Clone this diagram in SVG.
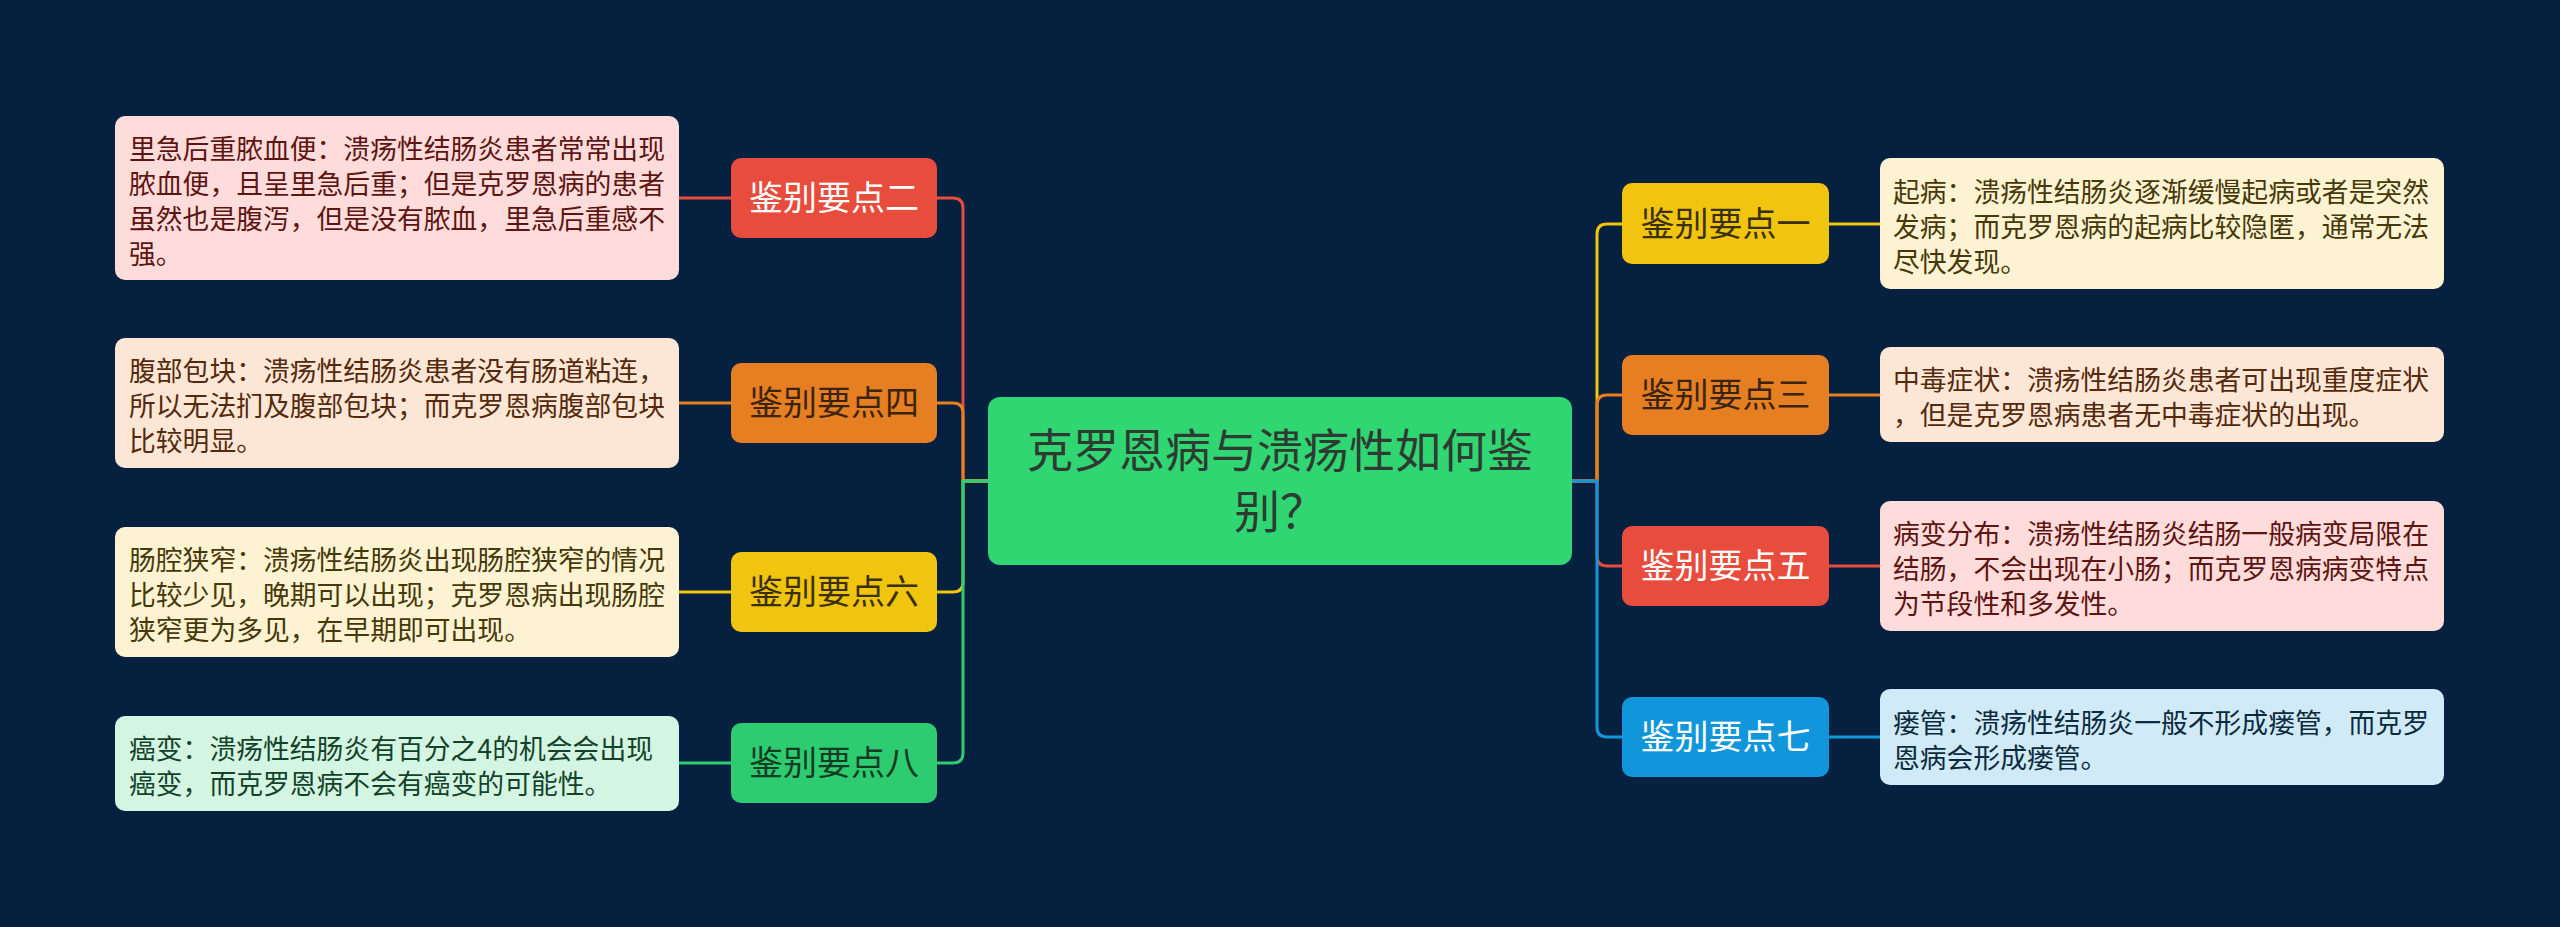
<svg xmlns="http://www.w3.org/2000/svg" width="2560" height="927" viewBox="0 0 2560 927">
<style>
text{font-family:"Noto Sans CJK SC","Noto Sans",sans-serif}
.mid{font-size:34px;text-anchor:middle}
.det{font-size:26.8px}
.root{font-size:46px;text-anchor:middle;fill:#2f3a33}
.ln{fill:none;stroke-width:3;stroke-linecap:round;stroke-linejoin:round}
.red{stroke:#e74c3c}.ora{stroke:#e67e22}.yel{stroke:#f1c40f}.grn{stroke:#2ecc71}.blu{stroke:#1296db}
</style>
<rect x="0" y="0" width="2560" height="927" fill="#06213f"/>
<g id="connectors">
<path class="ln red" d="M988,481 H963 V208 Q963,198 953,198 H937"/>
<path class="ln ora" d="M988,481 H963 V413 Q963,403 953,403 H937"/>
<path class="ln yel" d="M988,481 H963 V582 Q963,592 953,592 H937"/>
<path class="ln grn" d="M988,481 H963 V753 Q963,763 953,763 H937"/>
<path class="ln red" d="M731,198 H679"/>
<path class="ln ora" d="M731,403 H679"/>
<path class="ln yel" d="M731,592 H679"/>
<path class="ln grn" d="M731,763 H679"/>
<path class="ln yel" d="M1572,481 H1597 V234 Q1597,224 1607,224 H1622"/>
<path class="ln ora" d="M1572,481 H1597 V405 Q1597,395 1607,395 H1622"/>
<path class="ln red" d="M1572,481 H1597 V556 Q1597,566 1607,566 H1622"/>
<path class="ln blu" d="M1572,481 H1597 V727 Q1597,737 1607,737 H1622"/>
<path class="ln yel" d="M1829,224 H1880"/>
<path class="ln ora" d="M1829,395 H1880"/>
<path class="ln red" d="M1829,566 H1880"/>
<path class="ln blu" d="M1829,737 H1880"/>
</g>
<g id="root">
<rect x="988" y="397" width="584" height="168" rx="12" fill="#2fd672"/>
<text class="root"><tspan x="1280" y="467">克罗恩病与溃疡性如何鉴</tspan><tspan x="1280" y="528">别？</tspan></text>
</g>
<g id="n2">
<rect x="731" y="158" width="206" height="80" rx="10" fill="#e74c3c"/>
<text class="mid" x="834" y="210" fill="#ffffff">鉴别要点二</text>
</g>
<g id="n4">
<rect x="731" y="363" width="206" height="80" rx="10" fill="#e67e22"/>
<text class="mid" x="834" y="415" fill="#3a2410">鉴别要点四</text>
</g>
<g id="n6">
<rect x="731" y="552" width="206" height="80" rx="10" fill="#f1c40f"/>
<text class="mid" x="834" y="604" fill="#3a3006">鉴别要点六</text>
</g>
<g id="n8">
<rect x="731" y="723" width="206" height="80" rx="10" fill="#2ecc71"/>
<text class="mid" x="834" y="775" fill="#143b24">鉴别要点八</text>
</g>
<g id="n1">
<rect x="1622" y="183" width="207" height="81" rx="10" fill="#f1c40f"/>
<text class="mid" x="1725.5" y="236" fill="#3a3006">鉴别要点一</text>
</g>
<g id="n3">
<rect x="1622" y="355" width="207" height="80" rx="10" fill="#e67e22"/>
<text class="mid" x="1725.5" y="407" fill="#3a2410">鉴别要点三</text>
</g>
<g id="n5">
<rect x="1622" y="526" width="207" height="80" rx="10" fill="#e74c3c"/>
<text class="mid" x="1725.5" y="578" fill="#ffffff">鉴别要点五</text>
</g>
<g id="n7">
<rect x="1622" y="697" width="207" height="80" rx="10" fill="#1296db"/>
<text class="mid" x="1725.5" y="749" fill="#ffffff">鉴别要点七</text>
</g>
<g id="d2">
<rect x="115" y="116" width="564" height="164" rx="10" fill="#fddcdb"/>
<text class="det" fill="#5e1410"><tspan x="129" y="158.5">里急后重脓血便：溃疡性结肠炎患者常常出现</tspan><tspan x="129" y="193.5">脓血便，且呈里急后重；但是克罗恩病的患者</tspan><tspan x="129" y="228.5">虽然也是腹泻，但是没有脓血，里急后重感不</tspan><tspan x="129" y="263.5">强。</tspan></text>
</g>
<g id="d4">
<rect x="115" y="338" width="564" height="130" rx="10" fill="#fce7d6"/>
<text class="det" fill="#55290c"><tspan x="129" y="381">腹部包块：溃疡性结肠炎患者没有肠道粘连，</tspan><tspan x="129" y="416">所以无法扪及腹部包块；而克罗恩病腹部包块</tspan><tspan x="129" y="451">比较明显。</tspan></text>
</g>
<g id="d6">
<rect x="115" y="527" width="564" height="130" rx="10" fill="#fdf3d2"/>
<text class="det" fill="#463808"><tspan x="129" y="570">肠腔狭窄：溃疡性结肠炎出现肠腔狭窄的情况</tspan><tspan x="129" y="605">比较少见，晚期可以出现；克罗恩病出现肠腔</tspan><tspan x="129" y="640">狭窄更为多见，在早期即可出现。</tspan></text>
</g>
<g id="d8">
<rect x="115" y="716" width="564" height="95" rx="10" fill="#d5f5e3"/>
<text class="det" fill="#12432a"><tspan x="129" y="759">癌变：溃疡性结肠炎有百分之4的机会会出现</tspan><tspan x="129" y="794">癌变，而克罗恩病不会有癌变的可能性。</tspan></text>
</g>
<g id="d1">
<rect x="1880" y="158" width="564" height="131" rx="10" fill="#fdf3d2"/>
<text class="det" fill="#463808"><tspan x="1893" y="201.5">起病：溃疡性结肠炎逐渐缓慢起病或者是突然</tspan><tspan x="1893" y="236.5">发病；而克罗恩病的起病比较隐匿，通常无法</tspan><tspan x="1893" y="271.5">尽快发现。</tspan></text>
</g>
<g id="d3">
<rect x="1880" y="347" width="564" height="95" rx="10" fill="#fce7d6"/>
<text class="det" fill="#55290c"><tspan x="1893" y="390">中毒症状：溃疡性结肠炎患者可出现重度症状</tspan><tspan x="1893" y="425">，但是克罗恩病患者无中毒症状的出现。</tspan></text>
</g>
<g id="d5">
<rect x="1880" y="501" width="564" height="130" rx="10" fill="#fddcdb"/>
<text class="det" fill="#5e1410"><tspan x="1893" y="544">病变分布：溃疡性结肠炎结肠一般病变局限在</tspan><tspan x="1893" y="579">结肠，不会出现在小肠；而克罗恩病病变特点</tspan><tspan x="1893" y="614">为节段性和多发性。</tspan></text>
</g>
<g id="d7">
<rect x="1880" y="689" width="564" height="96" rx="10" fill="#d0eaf8"/>
<text class="det" fill="#0b2a3c"><tspan x="1893" y="732.5">瘘管：溃疡性结肠炎一般不形成瘘管，而克罗</tspan><tspan x="1893" y="767.5">恩病会形成瘘管。</tspan></text>
</g>
</svg>
